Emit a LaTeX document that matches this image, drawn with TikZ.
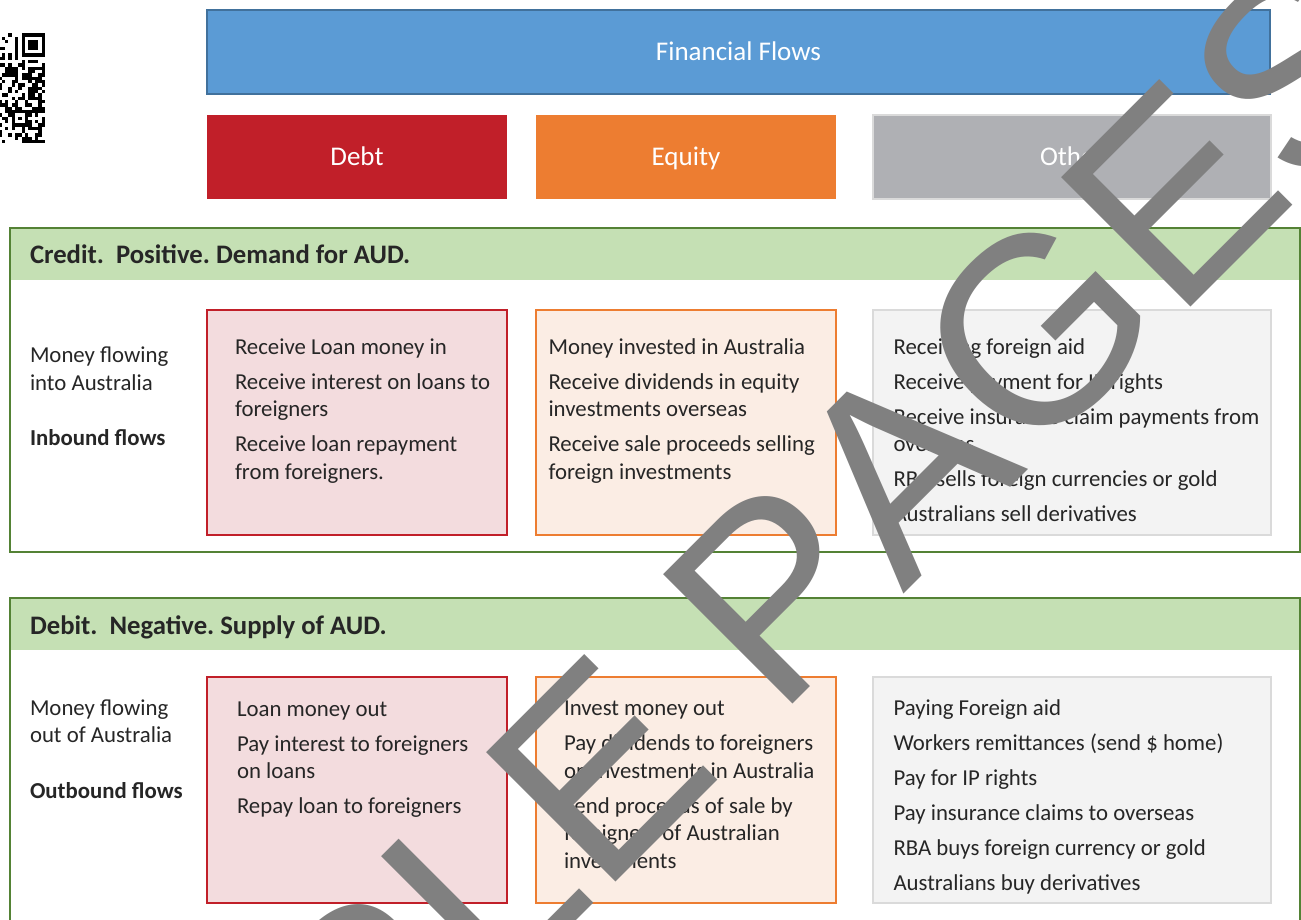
\documentclass[tikz,border=0pt]{standalone}
\usepackage{fontspec}
\setmainfont{Carlito}
\newfontfamily\stampfont[Kerning=Off]{Liberation Sans}
\frenchspacing

\definecolor{ink}{HTML}{262626}
\definecolor{flowblue}{HTML}{5B9BD5}
\definecolor{flowblueedge}{HTML}{41719C}
\definecolor{debtred}{HTML}{C11F29}
\definecolor{debtfill}{HTML}{F3DCDE}
\definecolor{equityorange}{HTML}{ED7D31}
\definecolor{equityfill}{HTML}{FBEDE4}
\definecolor{othergray}{HTML}{AFB0B4}
\definecolor{otheredge}{HTML}{DADADA}
\definecolor{otherfill}{HTML}{F3F3F3}
\definecolor{bandgreen}{HTML}{C5E0B4}
\definecolor{framegreen}{HTML}{548235}
\definecolor{stampgray}{HTML}{808080}

% stacked list of items: \par between items, \\ for wrapped lines
\newcommand\itemlist[1]{\parbox[t]{400pt}{\raggedright\setlength{\parskip}{7.5pt}#1}}

\begin{document}
\begin{tikzpicture}[x=1pt,y=-1pt,
  every node/.style={inner sep=0pt, outer sep=0pt},
  box/.style={rectangle, anchor=north west},
  headbox/.style={box, minimum height=84pt, text=white,
    font=\fontsize{27}{32}\selectfont, text height=17.4pt, text depth=0pt},
  card/.style={box, line width=2pt, minimum height=225pt},
  frame/.style={box, draw=framegreen, line width=2pt, minimum width=1290pt},
  band/.style={box, fill=bandgreen, minimum width=1288pt, minimum height=51pt},
  title/.style={anchor=base west, text=ink, font=\fontsize{26.7}{32}\selectfont\bfseries},
  body/.style={anchor=base west, text=ink, font=\fontsize{22.8}{27.5}\selectfont},
  bodybold/.style={body, font=\fontsize{22.8}{27.5}\selectfont\bfseries},
  qr/.style={fill=black},
]
\useasboundingbox (0,0) rectangle (1301,919);
\clip (0,0) rectangle (1301,919);
\fill[white] (0,0) rectangle (1301,919);

% ---- QR code (left part cut by the page edge)
\def\qm{3.33}
\pgfmathsetseed{4242}
\foreach \r in {0,...,32}{
  \foreach \c in {19,...,32}{
    \pgfmathrandominteger{\q}{0}{1}
    \ifnum\q=1
      \fill[qr] ({-64.9+\c*\qm},{33.3+\r*\qm}) rectangle ++(3.4,3.4);
    \fi
  }
}
% finder pattern with separator
\fill[white] ({-64.9+25*\qm},33.3) rectangle (46,{33.3+8*\qm});
\fill[qr] ({-64.9+26*\qm},33.3) rectangle ++({7*\qm},{7*\qm});
\fill[white] ({-64.9+27*\qm},{33.3+\qm}) rectangle ++({5*\qm},{5*\qm});
\fill[qr] ({-64.9+28*\qm},{33.3+2*\qm}) rectangle ++({3*\qm},{3*\qm});
% timing row
\fill[white] ({-64.9+19*\qm},{33.3+6*\qm}) rectangle ++({6*\qm},\qm);
\foreach \c in {20,22,24}
  \fill[qr] ({-64.9+\c*\qm},{33.3+6*\qm}) rectangle ++(3.4,\qm);
% alignment pattern
\fill[qr] ({-64.9+23*\qm},{33.3+23*\qm}) rectangle ++({5*\qm},{5*\qm});
\fill[white] ({-64.9+24*\qm},{33.3+24*\qm}) rectangle ++({3*\qm},{3*\qm});
\fill[qr] ({-64.9+25*\qm},{33.3+25*\qm}) rectangle ++(\qm,\qm);

% ---- category headers
\node[headbox, fill=flowblue, draw=flowblueedge, line width=1.2pt,
      minimum width=1063pt] (flows) at (207,10) {Financial Flows};
\node[headbox, fill=debtred, minimum width=300pt] (debt) at (207,115) {Debt};
\node[headbox, fill=equityorange, minimum width=300pt] (equity) at (536,115) {Equity};
\node[headbox, fill=othergray, draw=otheredge, line width=2pt,
      minimum width=398pt] (other) at (873,115) {Other};

% ---- credit section
\node[band] (creditband) at (11,229) {};
\node[frame, minimum height=324pt] (credit) at (10,228) {};
\node[title] (credittitle) at (30,263.5) {Credit.\ \ Positive. Demand for AUD.};

\node[card, fill=debtfill, draw=debtred, minimum width=300pt] (creditdebt) at (207,310) {};
\node[card, fill=equityfill, draw=equityorange, minimum width=300pt] (creditequity) at (536,310) {};
\node[card, fill=otherfill, draw=otheredge, minimum width=398pt] (creditother) at (873,310) {};

\node[body] (inlabel) at (30,362.5) {\itemlist{Money flowing\\into Australia}};
\node[bodybold] (inbound) at (30,445) {Inbound flows};

\node[body] (creditdebttext) at (235,354) {\itemlist{%
  Receive Loan money in\par
  Receive interest on loans to\\foreigners\par
  Receive loan repayment\\from foreigners.}};
\node[body] (creditequitytext) at (548.5,354) {\itemlist{%
  Money invested in Australia\par
  Receive dividends in equity\\investments overseas\par
  Receive sale proceeds selling\\foreign investments}};
\node[body] (creditothertext) at (893.5,354) {\itemlist{%
  Receiving foreign aid\par
  Receive payment for IP rights\par
  Receive insurance claim payments from\\overseas\par
  RBA sells foreign currencies or gold\par
  Australians sell derivatives}};

% ---- debit section
\node[band] (debitband) at (11,599) {};
\node[frame, minimum height=400pt] (debit) at (10,598) {};
\node[title] (debittitle) at (30,634.5) {Debit.\ \ Negative. Supply of AUD.};

\node[card, fill=debtfill, draw=debtred, minimum width=300pt, minimum height=226pt] (debitdebt) at (207,676.5) {};
\node[card, fill=equityfill, draw=equityorange, minimum width=300pt, minimum height=226pt] (debitequity) at (536,676.5) {};
\node[card, fill=otherfill, draw=otheredge, minimum width=398pt, minimum height=226pt] (debitother) at (873,676.5) {};

\node[body] (outlabel) at (30,715) {\itemlist{Money flowing\\out of Australia}};
\node[bodybold] (outbound) at (30,798) {Outbound flows};

\node[body] (debitdebttext) at (237,716) {\itemlist{%
  Loan money out\par
  Pay interest to foreigners\\on loans\par
  Repay loan to foreigners}};
\node[body] (debitequitytext) at (564,715.5) {\itemlist{%
  Invest money out\par
  Pay dividends to foreigners\\on investments in Australia\par
  Send proceeds of sale by\\foreigners of Australian\\investments}};
\node[body] (debitothertext) at (893.5,715.5) {\itemlist{%
  Paying Foreign aid\par
  Workers remittances (send \$ home)\par
  Pay for IP rights\par
  Pay insurance claims to overseas\par
  RBA buys foreign currency or gold\par
  Australians buy derivatives}};

% ---- diagonal stamp across the page
\node[anchor=base west, rotate=45, text=stampgray,
      font=\stampfont\fontsize{266}{266}\selectfont] (stamp) at (-37.4,1535) {SAMPLE PAGES};
\end{tikzpicture}
\end{document}
